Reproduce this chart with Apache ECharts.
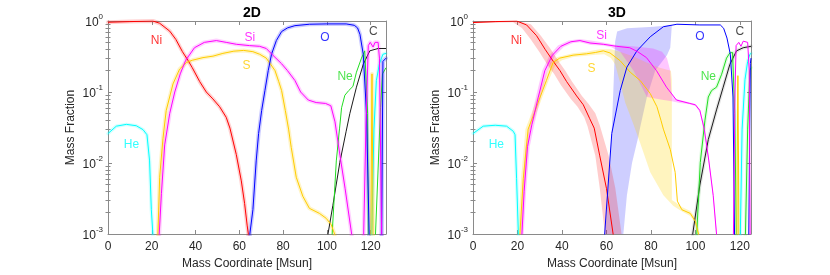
<!DOCTYPE html>
<html><head><meta charset="utf-8">
<script src="https://cdn.jsdelivr.net/npm/echarts@6/dist/echarts.min.js"></script>
<style>html,body{margin:0;padding:0;background:#fff}#c{width:830px;height:275px}</style>
</head><body><div id="c"></div>
<script>
// ---------- axes ----------
const xMax2D = 127, xMax3D = 125;
const yMin = 0.001, yMax = 1;
const titles = ['2D', '3D'];
const xName = 'Mass Coordinate [Msun]';
const yName = 'Mass Fraction';

// ---------- 2D lines [mass coordinate, mass fraction] ----------
const ni2D = [[0,0.96],[10,0.98],[20.5,1.0],[23.6,0.93],[28.2,0.72],[31,0.55],[34,0.37],[36.5,0.28],[38.5,0.22],[41.9,0.14],[44.9,0.1],[47.9,0.08],[51,0.062],[54,0.044],[55.7,0.031],[58.6,0.0132],[60.9,0.0056],[62.4,0.0027],[63.6,0.0013],[64.1,0.001],[64.5,0.0001]];
const si2D = [[22.6,0.0001],[23.4,0.001],[24.4,0.0037],[25.9,0.018],[28.2,0.05],[30.5,0.1],[33,0.18],[35.5,0.28],[39.5,0.42],[44,0.5],[49.5,0.53],[54,0.5],[58.6,0.47],[64.7,0.45],[69.3,0.44],[72.3,0.41],[75.3,0.33],[79.3,0.25],[82,0.2],[85.4,0.145],[88,0.1],[91.5,0.077],[95.1,0.071],[99.4,0.069],[101.8,0.064],[103.7,0.038],[106,0.0126],[108.3,0.0044],[111.3,0.001],[111.8,0.0001],[116.2,0.0001],[116.8,0.001],[117.8,0.03],[118.9,0.45],[119.8,0.5],[121.1,0.43],[122,0.5],[123.4,0.5],[124,0.3],[124.6,0.01],[125,0.001],[125.3,0.0001]];
const s2D = [[22,0.0001],[22.8,0.001],[23.6,0.0063],[25.1,0.022],[26.6,0.055],[29.7,0.13],[32.7,0.21],[35.8,0.26],[38.5,0.28],[43.4,0.305],[48,0.32],[52.5,0.35],[57.5,0.376],[62,0.385],[66.2,0.37],[69.3,0.34],[72.3,0.3],[74.5,0.24],[76.3,0.2],[78,0.14],[79.3,0.105],[81,0.055],[82.5,0.03],[83.7,0.0166],[86,0.0063],[89,0.0034],[92,0.0023],[96.6,0.00195],[99.7,0.00166],[102,0.00135],[103.5,0.001],[104,0.0001],[120,0.0001],[120.3,0.01],[120.6,0.18],[120.9,0.01],[121.2,0.0001]];
const o2D = [[64.3,0.0001],[64.8,0.001],[66.2,0.0022],[67.7,0.0107],[68.8,0.026],[70.2,0.055],[71.7,0.105],[73.2,0.2],[74.7,0.34],[76.9,0.53],[79.3,0.71],[82,0.8],[85.4,0.86],[92,0.9],[99.7,0.91],[108.8,0.91],[112.5,0.87],[114,0.8],[115.1,0.65],[116.6,0.34],[118.1,0.05],[119.3,0.001],[119.6,0.0001],[124.6,0.0001],[125,0.001],[125.6,0.27],[127,0.3]];
const ne2D = [[101.8,0.0001],[102.4,0.001],[104.3,0.0107],[105.8,0.031],[106.7,0.06],[108.2,0.09],[110,0.105],[111.9,0.12],[113.5,0.19],[115.8,0.3],[117.3,0.38],[118.1,0.38],[118.6,0.05],[118.9,0.001],[119.2,0.0001],[121.5,0.0001],[122.2,0.001],[123.5,0.01],[124.5,0.06],[125.4,0.18],[127,0.22]];
const c2D = [[100,0.0001],[100.5,0.001],[102.7,0.0025],[105.9,0.0102],[108.8,0.028],[110.5,0.05],[113.5,0.117],[116.6,0.245],[119.6,0.38],[123.4,0.41],[127,0.41]];
const he2D = [[0,0.026],[3.8,0.033],[8.4,0.035],[12.9,0.0335],[16,0.0295],[17.8,0.025],[19,0.0107],[19.8,0.0022],[20.5,0.001],[21,0.0001],[119.6,0.0001],[120.5,0.001],[121.5,0.03],[122.6,0.145],[124,0.25],[125.6,0.34],[127,0.35]];

// ---------- 3D lines ----------
const ni3D = [[0,0.95],[10,0.98],[19.6,1.0],[24.1,0.88],[28.6,0.62],[32.4,0.4],[36.1,0.27],[39.1,0.2],[42.1,0.14],[46.6,0.088],[49.6,0.066],[52.5,0.042],[54.5,0.031],[57,0.0126],[60,0.0044],[63,0.001],[63.5,0.0001]];
const si3D = [[21.5,0.0001],[22,0.001],[23,0.004],[24.5,0.017],[26.5,0.035],[29.3,0.083],[32.3,0.2],[35.7,0.33],[39.5,0.44],[44,0.51],[48.1,0.53],[52.6,0.49],[58.6,0.47],[64.6,0.44],[70.5,0.42],[74,0.37],[78,0.305],[82.5,0.2],[87,0.117],[91.5,0.077],[97.5,0.069],[100,0.066],[102,0.055],[104,0.03],[106,0.011],[108,0.0035],[109.5,0.001],[110,0.0001],[116.8,0.0001],[117.1,0.001],[117.8,0.1],[118.3,0.45],[119.5,0.5],[120.5,0.44],[121.5,0.52],[123.5,0.5],[124.2,0.2],[124.6,0.001],[125,0.0001]];
const s3D = [[20.5,0.0001],[21.1,0.001],[22.6,0.006],[24.8,0.03],[27.5,0.05],[30.2,0.085],[33,0.145],[36,0.26],[39,0.3],[45,0.33],[51,0.345],[55,0.36],[58.6,0.38],[61.6,0.355],[66.2,0.275],[70.7,0.19],[75.2,0.145],[79.7,0.095],[82.7,0.062],[84.5,0.04],[85.6,0.03],[88.7,0.0155],[90.9,0.0074],[91.9,0.0029],[93.9,0.0022],[97.7,0.00195],[100,0.0015],[101.4,0.001],[102,0.0001],[118.6,0.0001],[118.8,0.01],[119.1,0.17],[119.4,0.01],[119.6,0.0001]];
const o3D = [[58.9,0.0001],[59.2,0.001],[62.4,0.026],[66.2,0.105],[69.2,0.224],[73.7,0.38],[79.7,0.6],[85.6,0.83],[91.7,0.9],[102,0.88],[111.2,0.88],[112.7,0.79],[114.2,0.575],[115.7,0.34],[116.9,0.085],[117.6,0.001],[118,0.0001],[123.5,0.0001],[124,0.001],[124.7,0.25],[125,0.3]];
const ne3D = [[100,0.0001],[100.6,0.001],[102.2,0.0102],[104.3,0.04],[105.8,0.085],[107.3,0.105],[109.5,0.117],[111.8,0.178],[114,0.3],[115.5,0.355],[116.7,0.36],[117.7,0.05],[118.4,0.001],[118.8,0.0001],[121.8,0.0001],[122.5,0.001],[123.5,0.03],[124.5,0.2],[125,0.22]];
const c3D = [[98,0.0001],[98.8,0.001],[102,0.0049],[105.8,0.0214],[109.5,0.056],[112.5,0.117],[115.5,0.245],[118.5,0.38],[121.5,0.42],[125,0.44]];
const he3D = [[0,0.026],[4.6,0.033],[10,0.034],[15.1,0.033],[18.1,0.028],[18.9,0.025],[19.6,0.006],[20.4,0.001],[20.9,0.0001],[119.3,0.0001],[120.2,0.001],[121,0.03],[122.3,0.15],[123.5,0.27],[124.5,0.34],[125,0.35]];

// ---------- 3D spread bands: upper edge, lower edge ----------
const niBandHi3D = [[0,0.98],[20,1.0],[26,0.9],[30.5,0.62],[34.5,0.42],[38.5,0.27],[41.5,0.2],[44.5,0.14],[49,0.088],[52,0.068],[55,0.05],[57,0.034],[61,0.0126],[64,0.0044],[66.8,0.001]];
const niBandLo3D = [[0,0.93],[18,0.96],[22,0.8],[26,0.55],[30,0.36],[33.5,0.24],[36.5,0.18],[39.5,0.125],[44,0.08],[47,0.062],[50,0.044],[51.5,0.033],[55,0.0126],[57,0.0044],[59.3,0.001]];
const siBandHi3D = [[21.3,0.001],[22.2,0.004],[23.6,0.017],[25.5,0.035],[28.2,0.083],[31.1,0.2],[34.4,0.33],[38.2,0.45],[43,0.53],[48,0.56],[53,0.53],[58,0.5],[64.5,0.46],[72,0.44],[81,0.41],[85,0.37],[87.2,0.3],[88.7,0.2],[89.2,0.1],[90.5,0.082],[93,0.077],[97.5,0.071],[100,0.068],[102,0.057],[104,0.032],[106,0.012],[108,0.0038],[109.7,0.001]];
const siBandLo3D = [[22.8,0.001],[23.9,0.004],[25.5,0.017],[27.6,0.035],[30.4,0.083],[33.5,0.2],[37,0.33],[40.8,0.43],[45,0.49],[48,0.5],[53,0.46],[58,0.45],[62,0.43],[66.2,0.37],[72.2,0.2],[78.2,0.085],[85,0.078],[89.4,0.074],[93,0.07],[97.5,0.067],[100,0.063],[102,0.052],[104,0.027],[106,0.01],[108,0.0032],[109.3,0.001]];
const sBandHi3D = [[20.2,0.001],[21.6,0.006],[23.6,0.03],[26.3,0.05],[29,0.085],[31.8,0.145],[34.8,0.26],[38,0.31],[45,0.35],[51,0.37],[57,0.4],[62,0.4],[66,0.37],[72,0.32],[78,0.26],[84,0.22],[89,0.2],[89.4,0.15],[89.4,0.003],[91,0.0028],[93.9,0.0024],[97.7,0.0021],[100,0.0017],[102,0.001]];
const sBandLo3D = [[21.8,0.001],[23.4,0.006],[25.8,0.03],[28.5,0.05],[31.2,0.085],[34,0.145],[37,0.24],[40,0.28],[45,0.31],[51,0.325],[55,0.335],[59,0.34],[62,0.3],[63.9,0.245],[66,0.14],[68.5,0.07],[72,0.036],[75.2,0.019],[79.7,0.0074],[85.6,0.0035],[90,0.0025],[93.6,0.0021],[97.7,0.0018],[100,0.0014],[101,0.001]];
const oBandHi3D = [[59.4,0.001],[61,0.005],[62.4,0.03],[63.3,0.15],[63.9,0.51],[64.8,0.71],[69.3,0.79],[81.3,0.83],[89.4,0.88]];
const oBandLo3D = [[67.6,0.001],[69.2,0.0035],[71.5,0.01],[74.4,0.024],[75.1,0.031],[78.2,0.085],[81.9,0.2],[87.2,0.33],[88.7,0.42],[89.2,0.7],[89.4,0.88]];

// ---------- in-plot labels [x, y] ----------
const labelNames = ['Ni','Si','S','O','C','Ne','He'];
const labelPos2D = [[22.1,0.52],[64.8,0.58],[63.3,0.233],[99.1,0.58],[121.2,0.7],[108.3,0.163],[10.7,0.0182]];
const labelPos3D = [[19.5,0.52],[57.8,0.62],[53.3,0.21],[102,0.61],[120,0.7],[105.8,0.162],[10.5,0.0182]];

const col = {Ni:'#ff0000', Si:'#ff00ff', S:'#ffcc00', O:'#0000ff', C:'#1a1a1a', Ne:'#22dd22', He:'#00ffff'};
const FONT = '"Liberation Sans", Arial, Helvetica, sans-serif';
const AX = '#8a8a8a', TXT = '#262626';

const minorVals = [];
[-3,-2,-1].forEach(d => { for (let k = 2; k <= 9; k++) minorVals.push(+(k * Math.pow(10, d)).toPrecision(6)); });

const grids = [
  {left:108, top:21, width:278, height:217},
  {left:473, top:21, width:278, height:217}
];
const xMaxes = [xMax2D, xMax3D];

const xAxes = [], yAxes = [];
grids.forEach((g, gi) => {
  const base = {type:'value', gridIndex:gi, min:0, max:xMaxes[gi], interval:20,
    axisLine:{show:true, onZero:false, lineStyle:{color:AX, width:1}},
    axisTick:{show:true, inside:true, length:4, lineStyle:{color:AX}},
    splitLine:{show:false}};
  xAxes.push(Object.assign({}, base, {position:'bottom',
    axisLabel:{color:TXT, fontSize:12, fontFamily:FONT, margin:7, showMaxLabel:false},
    name:xName, nameLocation:'middle', nameGap:24,
    nameTextStyle:{color:TXT, fontSize:12, fontFamily:FONT}}));
  xAxes.push(Object.assign({}, base, {position:'top', axisLabel:{show:false}}));
  const ybase = {type:'log', logBase:10, gridIndex:gi, min:yMin, max:yMax,
    axisLine:{show:true, onZero:false, lineStyle:{color:AX, width:1}},
    axisTick:{show:true, inside:true, length:4, lineStyle:{color:AX}},
    splitLine:{show:false}, minorTick:{show:false}};
  yAxes.push(Object.assign({}, ybase, {position:'left',
    axisLabel:{margin:5, formatter:v => '{b|10}{s|' + Math.round(Math.log10(v)) + '}',
      rich:{b:{fontSize:12, color:TXT, fontFamily:FONT, verticalAlign:'bottom', lineHeight:16},
            s:{fontSize:8, color:TXT, fontFamily:FONT, verticalAlign:'top', lineHeight:10}}},
    name:yName, nameLocation:'middle', nameGap:31, nameRotate:90,
    nameTextStyle:{color:TXT, fontSize:12, fontFamily:FONT}}));
  yAxes.push(Object.assign({}, ybase, {position:'right', axisLabel:{show:false}}));
  const mb = {type:'log', logBase:10, gridIndex:gi, min:yMin, max:yMax,
    axisLine:{show:false}, axisLabel:{show:false}, splitLine:{show:false},
    axisTick:{show:true, inside:true, length:2.5, customValues:minorVals, lineStyle:{color:AX}}};
  yAxes.push(Object.assign({}, mb, {position:'left'}));
  yAxes.push(Object.assign({}, mb, {position:'right'}));
});

const series = [];
function line(data, color, gi, z) {
  series.push({type:'line', xAxisIndex:gi*2, yAxisIndex:gi*4, data:data, symbol:'none', showSymbol:false,
    lineStyle:{color:color, width:1}, itemStyle:{color:color}, clip:true, z:z||3, silent:true});
}
function halo(data, color, gi, w, op) {
  series.push({type:'line', xAxisIndex:gi*2, yAxisIndex:gi*4, data:data, symbol:'none', showSymbol:false,
    lineStyle:{color:color, width:w, opacity:op, cap:'round', join:'round'}, clip:true, z:2, silent:true});
}
function band(hi, lo, color, gi) {
  const pts = hi.concat(lo.slice().reverse());
  series.push({type:'custom', xAxisIndex:gi*2, yAxisIndex:gi*4, data:[pts[0]], z:1, silent:true,
    renderItem:function(params, api){
      return {type:'polygon', shape:{points:pts.map(p => api.coord(p))}, style:{fill:color}};
    }});
}

// 2D: thin spread shown as soft halos
halo(ni2D, col.Ni, 0, 4, 0.18);
halo(si2D, col.Si, 0, 4, 0.18);
halo(s2D, col.S, 0, 4, 0.22);
halo(o2D, col.O, 0, 4, 0.2);
halo(he2D, col.He, 0, 3.5, 0.18);
[['He',he2D],['C',c2D],['Ne',ne2D],['Ni',ni2D],['S',s2D],['O',o2D],['Si',si2D]].forEach(([k,d]) => line(d, col[k], 0));

// 3D bands
band(oBandHi3D, oBandLo3D, 'rgba(60,60,255,0.25)', 1);
band(sBandHi3D, sBandLo3D, 'rgba(255,210,0,0.25)', 1);
band(siBandHi3D, siBandLo3D, 'rgba(255,0,255,0.22)', 1);
band(niBandHi3D, niBandLo3D, 'rgba(255,0,0,0.2)', 1);
halo(he3D, col.He, 1, 3.5, 0.18);
halo(c3D, '#000000', 1, 3.5, 0.1);
halo(ne3D, col.Ne, 1, 3.5, 0.13);
[['He',he3D],['C',c3D],['Ne',ne3D],['Ni',ni3D],['S',s3D],['O',o3D],['Si',si3D]].forEach(([k,d]) => line(d, col[k], 1));

// labels
[labelPos2D, labelPos3D].forEach((pos, gi) => {
  series.push({type:'scatter', xAxisIndex:gi*2, yAxisIndex:gi*4, symbolSize:0, silent:true, z:5,
    data:labelNames.map((n, i) => ({name:n, value:pos[i],
      label:{show:true, position:'inside', formatter:n, color:col[n], fontSize:12, fontFamily:FONT}}))});
});

const chart = echarts.init(document.getElementById('c'), null, {renderer:'canvas'});
chart.setOption({
  animation:false,
  backgroundColor:'#fff',
  title:titles.map((t, gi) => ({text:t, left:grids[gi].left + grids[gi].width/2, top:1, textAlign:'center',
    textStyle:{fontSize:14, fontWeight:'bold', color:'#000', fontFamily:FONT}})),
  grid:grids,
  xAxis:xAxes,
  yAxis:yAxes,
  series:series
});
</script></body></html>
